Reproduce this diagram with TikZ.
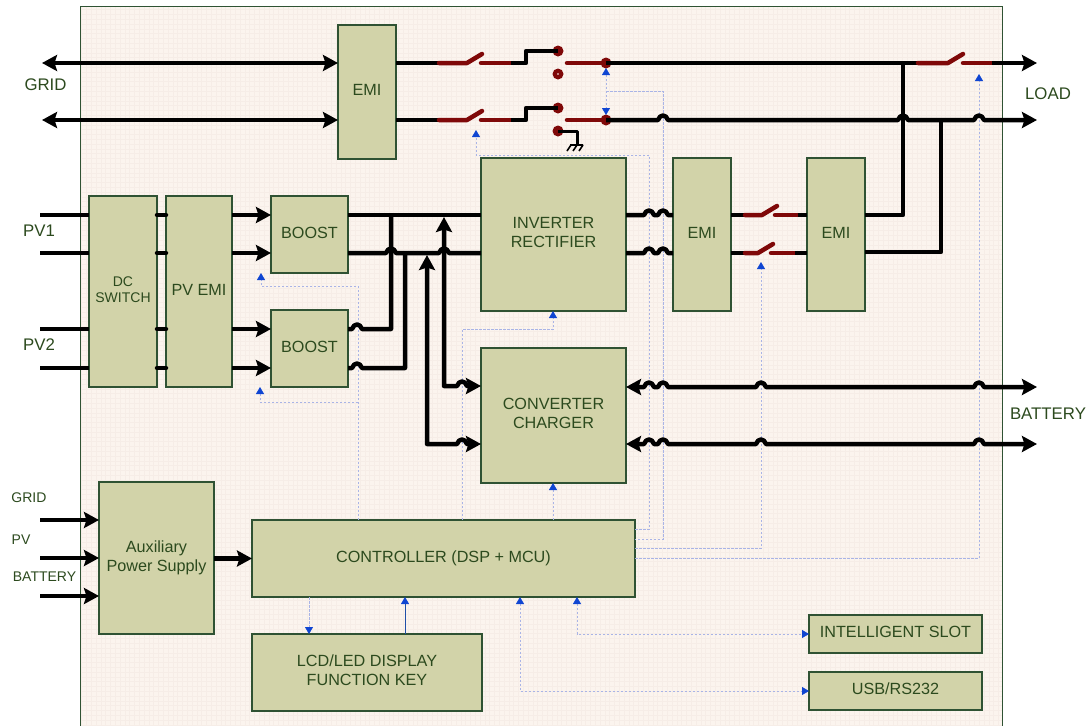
\documentclass[tikz,border=0pt]{standalone}
\usepackage{fontspec}
\setmainfont{Liberation Sans}
\usetikzlibrary{arrows.meta}
\definecolor{bgc}{HTML}{FBF4EE}
\definecolor{gridc}{HTML}{F6EDE7}
\definecolor{blockc}{HTML}{D2D3A9}
\definecolor{edgec}{HTML}{2F5233}
\definecolor{textc}{HTML}{2C4A1E}
\definecolor{redc}{HTML}{7F0808}
\definecolor{bluec}{HTML}{0F45D2}
\definecolor{dashc}{HTML}{A9B4E6}
\definecolor{solidblue}{HTML}{1F4FA8}
\newcommand{\fs}[2]{\fontsize{#1}{#2}\selectfont}
\tikzset{
  x=1pt,y=-1pt,
  block/.style={draw=edgec,fill=blockc,line width=1.1pt,inner sep=0pt,outer sep=0pt,text=textc,align=center,font=\fontsize{16.2}{19}\selectfont},
  lab/.style={text=textc,inner sep=0pt},
  pw/.style={line width=4.5pt,black,line join=round},
  pwa/.style={pw,-{Stealth[length=15pt,width=16pt,inset=2.5pt]}},
  pwb/.style={pw,{Stealth[length=15pt,width=16pt,inset=2.5pt]}-{Stealth[length=15pt,width=16pt,inset=2.5pt]}},
  stub/.style={pw,line cap=round},
  rd/.style={line width=4.5pt,redc,line cap=round,line join=round},
  contact/.style={circle,fill=redc,minimum size=11pt,inner sep=0pt,outer sep=0pt},
  sig/.style={dashc,line width=0.8pt,dash pattern=on 2.5pt off 1.5pt},
  siga/.style={sig,-{Triangle[bluec,length=7pt,width=8pt]}},
  sigb/.style={sig,{Triangle[bluec,length=7pt,width=8pt]}-{Triangle[bluec,length=7pt,width=8pt]}},
}
% line hop at x,y on a horizontal wire
\newcommand{\J}[2]{-- (#1-5,#2) .. controls (#1-3,#2-6) and (#1+3,#2-6) .. (#1+5,#2)}
% block from corners
\newcommand{\blk}[7][]{\node[block,#1,minimum width={(#4-#2)*1pt},minimum height={(#5-#3)*1pt}] (#6) at ({(#2+#4)/2},{(#3+#5)/2}) {\raisebox{-0.2pt}{\begin{tabular}{@{}c@{}}#7\end{tabular}}};}
% switch: red blade from x1 to x2, hinged, then red from x3 to x4, at y
\newcommand{\swt}[5]{\draw[rd] (#1,#5) -- (#2,#5) -- (#2+15,#5-9); \draw[rd] (#3,#5) -- (#4,#5);}
\begin{document}
\begin{tikzpicture}
\useasboundingbox (0,0) rectangle (1088,726);
\fill[white] (0,0) rectangle (1088,726);
\begin{scope}
\clip (80,6) rectangle (1002,726);
\fill[bgc] (80,6) rectangle (1002,726);
\draw[gridc,line width=0.5pt,step=4.8pt] (80,6) grid (1002,726);
\end{scope}
\draw[edgec,line width=0.9pt] (80,726) -- (80,6) -- (1002,6) -- (1002,726);

% blocks
\blk{338}{25}{396}{159}{emia}{EMI}
\blk{481}{158}{626}{311}{inv}{INVERTER\\RECTIFIER}
\blk{673}{158}{731}{311}{emib}{EMI}
\blk{807}{158}{865}{311}{emic}{EMI}
\blk[font=\fontsize{14}{16}\selectfont]{89}{196}{157}{387}{dc}{DC\\SWITCH}
\blk{166}{196}{232}{387}{pvemi}{PV EMI}
\blk{271}{196}{348}{273}{boosta}{BOOST}
\blk{271}{310}{348}{387}{boostb}{BOOST}
\blk{481}{348}{626}{483}{conv}{CONVERTER\\CHARGER}
\blk{99}{482}{214}{634}{aux}{Auxiliary\\Power Supply}
\blk{252}{520}{635}{597}{ctrl}{CONTROLLER (DSP + MCU)}
\blk{252}{634}{482}{711}{lcd}{LCD/LED DISPLAY\\FUNCTION KEY}
\blk{809}{615}{982}{653}{slot}{INTELLIGENT SLOT}
\blk{809}{672}{982}{710}{usb}{USB/RS232}

% free ends and contacts
\coordinate (gridA) at (42,63);
\coordinate (gridB) at (42,120);
\coordinate (loadA) at (1037,63);
\coordinate (loadB) at (1037,120);
\coordinate (battA) at (1037,387);
\coordinate (battB) at (1037,444);
\node[contact] (ca1) at (558,51) {};
\node[contact] (ca2) at (558,74) {};
\node[contact] (ca3) at (606,63) {};
\node[contact] (cb1) at (558,108) {};
\node[contact] (cb2) at (558,131) {};
\node[contact] (cb3) at (606,120) {};
\fill[white] (ca2) circle (0.8pt);

% signal lines
\draw[sig] (606,91) -- (663,91) -- (663,539) -- (ctrl.east |- 0,539);
\draw[siga] (ctrl.east |- 0,529) -- (649,529) -- (649,155) -- (476,155) -- (476,130);
\draw[siga] (ctrl.east |- 0,548) -- (761,548) -- (761,262);
\draw[siga] (ctrl.east |- 0,558) -- (979,558) -- (979,74);
\draw[siga] (ctrl.north -| 358,0) -- (358,286) -- (261,286) -- (boosta.south -| 261,0);
\draw[siga] (358,402) -- (260,402) -- (boostb.south -| 260,0);
\draw[siga] (ctrl.north -| 462,0) -- (462,329) -- (553,329) -- (inv.south -| 553,0);
\draw[siga] (ctrl.north -| 553,0) -- (conv.south -| 553,0);
\draw[siga] (ctrl.south -| 309,0) -- (lcd.north -| 309,0);
\draw[solidblue,line width=1pt,-{Triangle[bluec,length=7pt,width=8pt]}] (lcd.north -| 405,0) -- (ctrl.south -| 405,0);
\draw[sigb] (ctrl.south -| 577,0) -- (577,634) -- (slot.west |- 0,634);
\draw[sigb] (ctrl.south -| 520,0) -- (520,691) -- (usb.west |- 0,691);

% grid to EMI
\draw[pwb] (gridA) -- (emia.west |- gridA);
\draw[pwb] (gridB) -- (emia.west |- gridB);

% upper line
\draw[pw] (emia.east |- 0,63) -- (440,63);
\draw[pw] (emia.east |- 0,120) -- (440,120);
\swt{439}{467}{481}{511}{63}
\swt{439}{467}{481}{511}{120}
\draw[pw] (511,63) -- (526,63) -- (526,51) -- (ca1.center);
\draw[pw] (511,120) -- (526,120) -- (526,108) -- (cb1.center);
\draw[rd] (567,63) -- (ca3.center);
\draw[rd] (567,120) -- (cb3.center);
\draw[pw] (ca3.center) -- (917,63);
\swt{918}{948}{963}{992}{63}
\draw[pwa] (992,63) -- (loadA);
\draw[pwa] (cb3.center) \J{663}{120} \J{903}{120} \J{979}{120} -- (loadB);
\draw[sigb] (606,68) -- (606,115);

% earth
\draw[pw,line width=3pt] (cb2.center) -- (577,131) -- (577,145);
\draw[black,line width=1.6pt] (570,145) -- (583,145) (571,145) -- (567,151) (577,145) -- (573,151) (583,145) -- (579,151);

% PV side
\foreach \yy in {215,253,329,368}{
  \draw[pw] (40,\yy) -- (dc.west |- 0,\yy);
  \draw[stub] (dc.east |- 0,\yy) -- (pvemi.west |- 0,\yy);
}
\draw[pwa] (pvemi.east |- 0,215) -- (boosta.west |- 0,215);
\draw[pwa] (pvemi.east |- 0,253) -- (boosta.west |- 0,253);
\draw[pwa] (pvemi.east |- 0,329) -- (boostb.west |- 0,329);
\draw[pwa] (pvemi.east |- 0,368) -- (boostb.west |- 0,368);

% bus
\draw[pw] (boosta.east |- 0,215) -- (inv.west |- 0,215);
\draw[pw] (boosta.east |- 0,253) \J{391}{253} \J{444}{253} -- (inv.west |- 0,253);
\draw[pw] (boostb.east |- 0,329) \J{357}{329} -- (391,329) -- (391,215);
\draw[pw] (boostb.east |- 0,368) \J{357}{368} -- (405,368) -- (405,253);
\draw[pwb] (444,217) -- (444,386) \J{462}{386} -- (conv.west |- 0,386);
\draw[pwb] (427,255) -- (427,444) \J{462}{444} -- (conv.west |- 0,444);

% inverter to EMI
\draw[pw] (inv.east |- 0,215) \J{649}{215} \J{663}{215} -- (emib.west |- 0,215);
\draw[pw] (inv.east |- 0,253) \J{649}{253} \J{663}{253} -- (emib.west |- 0,253);

% EMI to EMI
\draw[pw] (emib.east |- 0,215) -- (745,215);
\swt{745}{762}{775}{798}{215}
\draw[pw] (798,215) -- (emic.west |- 0,215);
\draw[pw] (emib.east |- 0,253) -- (745,253);
\swt{745}{758}{771}{795}{253}
\draw[pw] (795,253) -- (emic.west |- 0,253);

% EMI to load
\draw[pw] (emic.east |- 0,215) -- (903,215) -- (903,63);
\draw[pw] (emic.east |- 0,252) -- (941,252) -- (941,120);

% battery
\draw[pwb] (conv.east |- battA) \J{649}{387} \J{663}{387} \J{761}{387} \J{979}{387} -- (battA);
\draw[pwb] (conv.east |- battB) \J{649}{444} \J{663}{444} \J{761}{444} \J{979}{444} -- (battB);

% auxiliary supply
\draw[pwa] (40,520) -- (aux.west |- 0,520);
\draw[pwa] (40,558) -- (aux.west |- 0,558);
\draw[pwa] (40,596) -- (aux.west |- 0,596);
\draw[pwa] (aux.east |- ctrl.west) -- (ctrl.west);

% labels
\node[lab,font=\fs{16.8}{19}] (lgrid) at (45.5,85) {GRID};
\node[lab,font=\fs{16.8}{19}] (lload) at (1048,94) {LOAD};
\node[lab,font=\fs{16.8}{19}] (lpva) at (39,231) {PV1};
\node[lab,font=\fs{16.8}{19}] (lpvb) at (39,345) {PV2};
\node[lab,font=\fs{16.8}{19}] (lbatt) at (1048,414) {BATTERY};
\node[lab,font=\fs{14}{15}] (sgrid) at (29,498) {GRID};
\node[lab,font=\fs{14}{15}] (spv) at (21,540) {PV};
\node[lab,font=\fs{14}{15}] (sbatt) at (44.5,577) {BATTERY};
\end{tikzpicture}
\end{document}
